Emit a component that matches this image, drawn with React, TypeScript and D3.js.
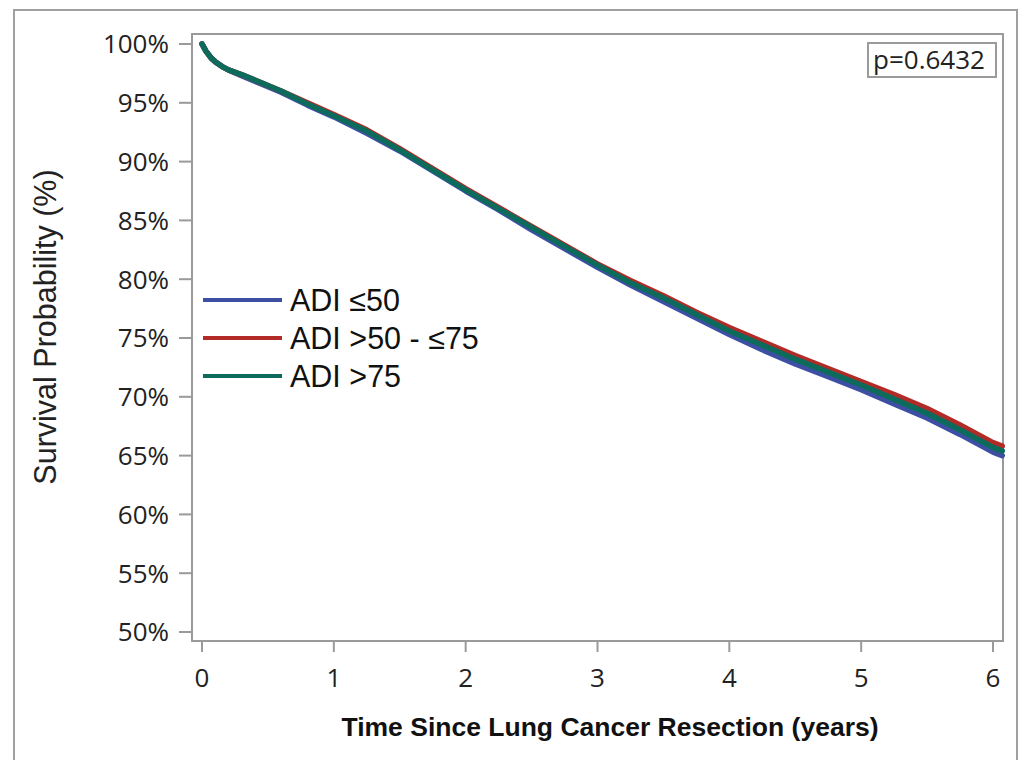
import React from "react";
import * as d3 from "d3";

const times = [0, 0.03, 0.07, 0.1, 0.15, 0.2, 0.3, 0.45, 0.6, 0.8, 1.0, 1.25, 1.5, 1.75, 2.0, 2.25, 2.5, 2.75, 3.0, 3.25, 3.5, 3.75, 4.0, 4.25, 4.5, 4.75, 5.0, 5.25, 5.5, 5.75, 6.0, 6.07];
const adiLow = [100, 99.4, 98.8, 98.5, 98.1, 97.8, 97.3, 96.6, 95.9, 94.8, 93.8, 92.4, 90.9, 89.2, 87.5, 85.9, 84.2, 82.6, 81.0, 79.5, 78.1, 76.7, 75.3, 74.0, 72.8, 71.7, 70.6, 69.4, 68.2, 66.8, 65.3, 65.0];
const adiMid = [100, 99.4, 98.8, 98.5, 98.1, 97.8, 97.4, 96.7, 96.0, 95.0, 94.0, 92.7, 91.1, 89.4, 87.7, 86.1, 84.5, 82.9, 81.3, 79.9, 78.6, 77.2, 75.9, 74.7, 73.5, 72.4, 71.3, 70.2, 69.0, 67.6, 66.1, 65.8];
const adiHigh = [100, 99.4, 98.8, 98.5, 98.1, 97.8, 97.4, 96.7, 96.0, 94.9, 93.9, 92.6, 91.0, 89.3, 87.6, 86.0, 84.4, 82.8, 81.2, 79.7, 78.4, 77.0, 75.6, 74.4, 73.2, 72.1, 71.0, 69.8, 68.6, 67.2, 65.7, 65.4];

const seriesNames = ["ADI \u226450", "ADI >50 - \u226475", "ADI >75"];
const seriesColors = ["#3d4fa3", "#b22b26", "#0d6b5c"];
const seriesValues = [adiLow, adiMid, adiHigh];

const xTicks = [0, 1, 2, 3, 4, 5, 6];
const yTicks = [50, 55, 60, 65, 70, 75, 80, 85, 90, 95, 100];
const pValueLabel = "p=0.6432";
const xTitle = "Time Since Lung Cancer Resection (years)";
const yTitle = "Survival Probability (%)";

export default function App() {
  const W = 1023, H = 760;
  const left = 192, right = 1003, top = 34, bottom = 641;
  const x = d3.scaleLinear().domain([0, 6]).range([202, 993]);
  const y = d3.scaleLinear().domain([50, 100]).range([632, 44]);
  const line = d3.line<number>().x((_, i) => x(times[i])).y((d) => y(d)).curve(d3.curveLinear);
  const axisColor = "#9a9a9a";
  const tickFont = "'Open Sans', sans-serif";
  return (
    <svg width={W} height={H} style={{ position: "absolute", left: 0, top: 0, background: "#fff" }}>
      <rect x={0} y={0} width={W} height={H} fill="#fff" />
      <rect x={14} y={10} width={1003} height={770} fill="none" stroke="#a0a0a0" strokeWidth={2} />
      <rect x={left} y={top} width={right - left} height={bottom - top} fill="none" stroke={axisColor} strokeWidth={2} />
      {yTicks.map((t) => (
        <g key={"y" + t}>
          <line x1={179} x2={left} y1={y(t)} y2={y(t)} stroke={axisColor} strokeWidth={2} />
          <text x={169} y={y(t)} dy="0.36em" textAnchor="end" fontFamily={tickFont} fontSize={26} fill="#222">{t}%</text>
        </g>
      ))}
      {xTicks.map((t) => (
        <g key={"x" + t}>
          <line x1={x(t)} x2={x(t)} y1={bottom} y2={bottom + 11} stroke={axisColor} strokeWidth={2} />
          <text x={x(t)} y={687} textAnchor="middle" fontFamily={tickFont} fontSize={26} fill="#222">{t}</text>
        </g>
      ))}
      <text x={610} y={736} textAnchor="middle" fontFamily="'Liberation Sans Narrow', 'Liberation Sans', sans-serif" fontWeight="bold" fontSize={26.5} fill="#111">{xTitle}</text>
      <text transform={`translate(56, 327) rotate(-90)`} textAnchor="middle" fontFamily="'Liberation Sans', Arial, sans-serif" fontSize={30.5} fill="#222">{yTitle}</text>
      {seriesValues.map((vals, i) => (
        <path key={"s" + i} d={line(vals) || ""} fill="none" stroke={seriesColors[i]} strokeWidth={5.5} strokeLinejoin="round" strokeLinecap="round" />
      ))}
      {seriesNames.map((n, i) => (
        <g key={"l" + i}>
          <line x1={203} x2={282} y1={300 + i * 38} y2={300 + i * 38} stroke={seriesColors[i]} strokeWidth={4} />
          <text x={290} y={300 + i * 38} dy="0.37em" fontFamily="'Liberation Sans', Arial, sans-serif" fontSize={30.5} fill="#111">{n}</text>
        </g>
      ))}
      <rect x={868} y={43} width={128} height={34} fill="#fff" stroke={axisColor} strokeWidth={2} />
      <text x={929} y={60} dy="0.36em" textAnchor="middle" fontFamily={tickFont} fontSize={26} fill="#222">{pValueLabel}</text>
    </svg>
  );
}
